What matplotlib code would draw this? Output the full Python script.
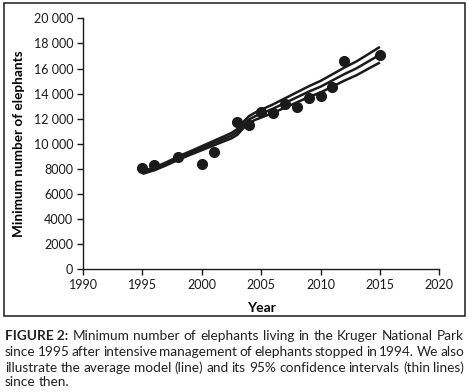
import matplotlib
matplotlib.use("Agg")
import matplotlib.pyplot as plt
from matplotlib.patches import Rectangle
from matplotlib.ticker import FuncFormatter, MultipleLocator
import numpy as np

plt.rcParams['font.family'] = ['Lato', 'DejaVu Sans']

# Observed minimum counts
obs_years = [1995, 1996, 1998, 2000, 2001, 2003, 2004, 2005, 2006, 2007, 2008, 2009, 2010, 2011, 2012, 2015]
obs_counts = [8100, 8350, 8950, 8370, 9320, 11730, 11500, 12520, 12420, 13180, 12950, 13620, 13800, 14520, 16600, 17100]

# Average model and 95% confidence interval
model_years = [1995, 1996, 1997, 1998, 1999, 2000, 2001, 2002, 2002.5, 2003, 2003.5, 2004, 2004.5,
               2005, 2006, 2007, 2008, 2009, 2010, 2011, 2012, 2013, 2014, 2015]
model_mean = [7700, 8000, 8400, 8850, 9250, 9650, 10050, 10450, 10650, 10950, 11500, 11950, 12200,
              12400, 12800, 13250, 13700, 14150, 14550, 15050, 15550, 16000, 16550, 17100]
ci_half = [100, 110, 120, 130, 140, 160, 180, 200, 215, 230, 250, 270, 290,
           310, 340, 370, 400, 430, 460, 490, 520, 550, 580, 620]

caption_lines = [
    ["FIGURE 2:", "Minimum number of elephants living in the Kruger National Park"],
    ["", "since 1995 after intensive management of elephants stopped in 1994. We also"],
    ["", "illustrate the average model (line) and its 95% confidence intervals (thin lines)"],
    ["", "since then."],
]

W, H = 469, 392
fig = plt.figure(figsize=(W / 100, H / 100), dpi=100)

# frame around chart area
fig.patches.append(Rectangle((4 / W, 1 - 316 / H), 461 / W, 313 / H, transform=fig.transFigure,
                             fill=False, edgecolor='#1a1a1a', linewidth=1.1))

ax = fig.add_axes([83 / W, 1 - 269.3 / H, (439.3 - 83) / W, (269.3 - 18.3) / H])
ax.set_xlim(1990, 2020)
ax.set_ylim(0, 20000)
ax.xaxis.set_major_locator(MultipleLocator(5))
ax.yaxis.set_major_locator(MultipleLocator(2000))


def fmt(v, pos):
    v = int(round(v))
    if v >= 10000:
        return f"{v // 1000} {v % 1000:03d}"
    return str(v)


ax.yaxis.set_major_formatter(FuncFormatter(fmt))
for s in ['top', 'right']:
    ax.spines[s].set_visible(False)
for s in ['left', 'bottom']:
    ax.spines[s].set_linewidth(1.0)
    ax.spines[s].set_color('#1a1a1a')
ax.tick_params(direction='out', length=4, width=1.0, colors='#1a1a1a', labelsize=9, pad=3)

ym = np.array(model_mean)
hw = np.array(ci_half)
ax.plot(model_years, ym + hw, color='#1a1a1a', lw=1.8, solid_capstyle='butt')
ax.plot(model_years, ym - hw, color='#1a1a1a', lw=1.8, solid_capstyle='butt')
ax.plot(model_years, ym, color='#1a1a1a', lw=1.8, solid_capstyle='butt')
ax.plot(obs_years, obs_counts, 'o', color='#1a1a1a', markersize=7, zorder=5)

ax.set_xlabel("Year", fontsize=10, fontweight='bold', labelpad=8)
ax.set_ylabel("Minimum number of elephants", fontsize=9.8, fontweight='bold')
ax.yaxis.set_label_coords(-58 / (439.3 - 83), 0.5)

# justified caption
fig.canvas.draw()
renderer = fig.canvas.get_renderer()
x0, x1 = 5, 464
ys = [335.5, 351.5, 367.5, 382.5]
fs = 9.8
tmp1 = fig.text(0, 0, "a b", fontsize=fs)
tmp2 = fig.text(0, 0, "ab", fontsize=fs)
sw = tmp1.get_window_extent(renderer).width - tmp2.get_window_extent(renderer).width
tmp1.remove()
tmp2.remove()
for i, (bold, rest) in enumerate(caption_lines):
    words = []
    if bold:
        words.append((bold, 'bold'))
    words += [(w, 'normal') for w in rest.split()]
    texts = []
    widths = []
    for w, weight in words:
        t = fig.text(0, 1 - ys[i] / H, w, fontsize=fs, fontweight=weight, color='#222222',
                     va='center', ha='left')
        bb = t.get_window_extent(renderer)
        texts.append(t)
        widths.append(bb.width)
    if i < len(caption_lines) - 1 and len(words) > 1:
        gap = (x1 - x0 - sum(widths)) / (len(words) - 1)
    else:
        gap = sw
    x = x0
    for t, w in zip(texts, widths):
        t.set_x(x / W)
        x += w + gap

fig.savefig("out.png", dpi=100)
